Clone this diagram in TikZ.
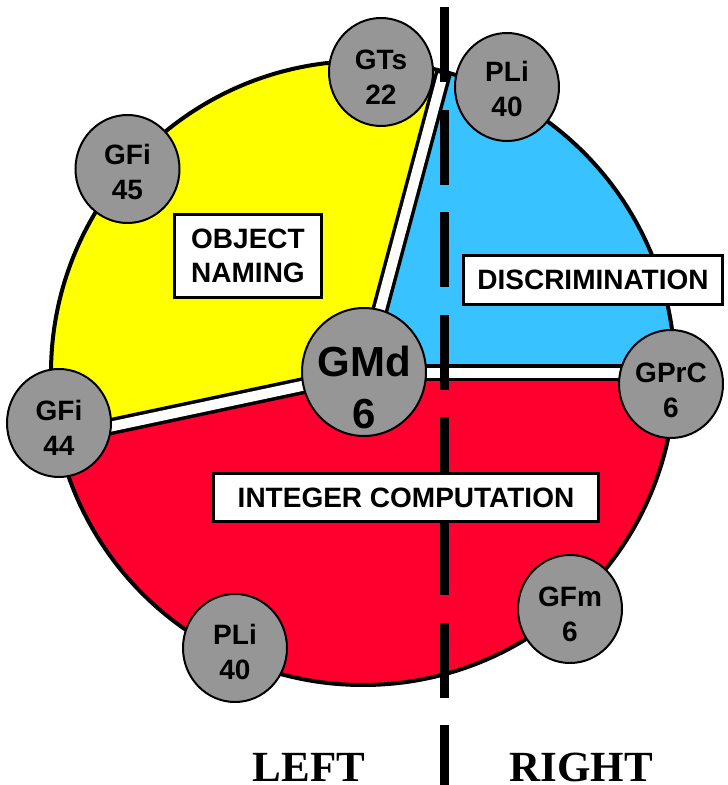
\documentclass[tikz,border=0pt]{standalone}
\usepackage{fontspec}
\setmainfont{Liberation Sans}
\newfontfamily\serifb{Liberation Serif}
\usetikzlibrary{shapes.geometric}
\definecolor{pieyellow}{HTML}{FFFF00}
\definecolor{pieblue}{HTML}{38C2FF}
\definecolor{piered}{HTML}{FF002E}
\definecolor{nodegray}{HTML}{969696}
\begin{document}
\begin{tikzpicture}[x=1pt,y=1pt,
  gnode/.style={ellipse, draw=black, line width=2pt, fill=nodegray,
    minimum width=104pt, minimum height=108pt, inner sep=0pt},
  bignode/.style={gnode, minimum width=124pt, minimum height=128pt},
  gtext/.style={inner sep=0pt, align=center,
    font=\bfseries\fontsize{28}{35}\selectfont},
  bigtext/.style={inner sep=0pt, align=center,
    font=\bfseries\fontsize{42}{52}\selectfont},
  labelbox/.style={draw=black, line width=3pt, fill=white, align=center,
    inner sep=0pt, font=\bfseries\fontsize{28}{34}\selectfont},
  sidelabel/.style={font=\serifb\bfseries\fontsize{43}{50}\selectfont, anchor=base, inner sep=0pt},
  gapblack/.style={line width=17pt, black},
  gapwhite/.style={line width=10pt, white},
  divider/.style={line width=9pt, black, dash pattern=on 75pt off 27.6pt}
]
\useasboundingbox (0,0) rectangle (728,785);
\coordinate (c) at (363,412);
% sectors
\fill[piered] (c) -- ++(192:312) arc[start angle=192, end angle=360, radius=312] -- cycle;
\fill[pieyellow] (c) -- ++(75:312) arc[start angle=75, end angle=192, radius=312] -- cycle;
\fill[pieblue] (c) -- ++(0:312) arc[start angle=0, end angle=75, radius=312] -- cycle;
\draw[line width=4pt] (c) circle[radius=312];
% gaps between sectors
\path (c) ++(75:313) coordinate (ga1) (c) ++(192:313) coordinate (gb1) (c) ++(0:313) coordinate (gc1);
\path (c) ++(75:309) coordinate (ga2) (c) ++(192:309) coordinate (gb2) (c) ++(0:309) coordinate (gc2);
\draw[gapblack] (c) -- (ga1);
\draw[gapblack] (c) -- (gb1);
\draw[gapblack] (c) -- (gc1);
\draw[gapwhite] (c) -- (ga2);
\draw[gapwhite] (c) -- (gb2);
\draw[gapwhite] (c) -- (gc2);
% dashed divider
\coordinate (dtop) at (444,778);
\coordinate (dbot) at (444,0);
\draw[divider] (dtop) -- (dbot);
% region labels
\node[labelbox, minimum width=147pt, minimum height=83pt] (naming) at (248,529) {OBJECT\\NAMING};
\node[labelbox, minimum width=259pt, minimum height=49pt] (discr) at (593,505) {DISCRIMINATION};
\node[labelbox, minimum width=385pt, minimum height=48pt] (integer) at (406,287.5) {INTEGER COMPUTATION};
% electrode nodes
\node[gnode] (gts) at (381,713) {};
\node[gnode] (plitop) at (507,698) {};
\node[gnode] (gfi45) at (127.5,616) {};
\node[gnode] (gfi44) at (59,362) {};
\node[bignode] (gmd) at (364,413) {};
\node[gnode] (gprc) at (671,401) {};
\node[gnode] (gfm) at (570,176) {};
\node[gnode] (plibot) at (235,137) {};
\node[gtext] (gtsT) at ([yshift=-5pt]gts.center) {GTs\\22};
\node[gtext] (plitopT) at ([yshift=-2pt]plitop.center) {PLi\\40};
\node[gtext] (gfi45T) at ([yshift=-3pt]gfi45.center) {GFi\\45};
\node[gtext] (gfi44T) at ([yshift=-5pt]gfi44.center) {GFi\\44};
\node[bigtext] (gmdT) at ([yshift=-15pt]gmd.center) {GMd\\6};
\node[gtext] (gprcT) at ([yshift=-6pt]gprc.center) {GPrC\\6};
\node[gtext] (gfmT) at ([yshift=-5pt]gfm.center) {GFm\\6};
\node[gtext] (plibotT) at ([yshift=-4pt]plibot.center) {PLi\\40};
% side labels
\node[sidelabel] (left) at (309,4) {LEFT};
\node[sidelabel] (right) at (581,4) {RIGHT};
\end{tikzpicture}
\end{document}
